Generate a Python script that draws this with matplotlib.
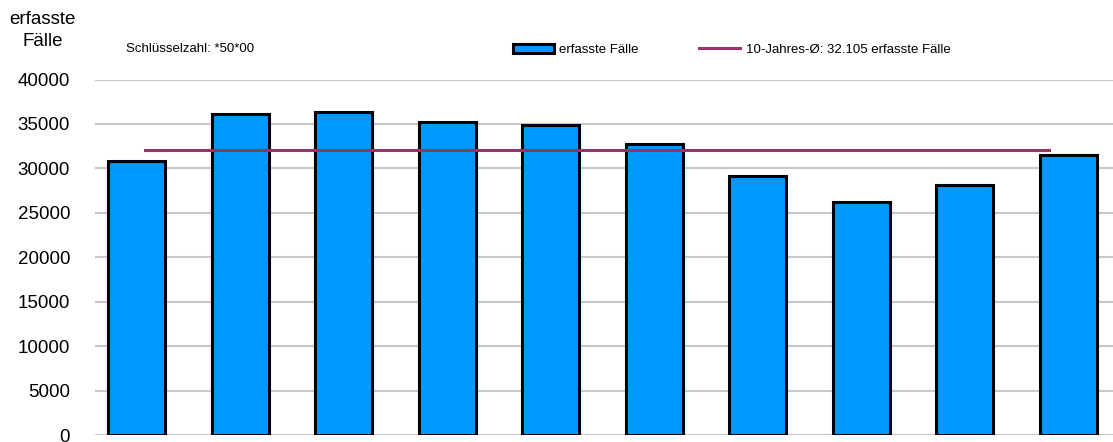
import numpy as np
import matplotlib.pyplot as plt
from matplotlib.patches import Patch
from matplotlib.lines import Line2D

plt.rcParams['font.family'] = ['Liberation Sans', 'DejaVu Sans']

# erfasste Fälle je Jahr (10 Jahre)
faelle = [30800, 36100, 36400, 35200, 34900, 32700, 29100, 26250, 28100, 31500]
mittel = 32105
yticks = np.arange(0, 40001, 5000)

fig = plt.figure(figsize=(11.13, 4.42), dpi=100)
ax = fig.add_axes([0.0854, 0.0158, 0.9146, 0.8042])

x = np.arange(len(faelle))
ax.bar(x, faelle, width=0.55, color='#0099FF', edgecolor='black',
       linewidth=2.2, zorder=3)
# 10-Jahres-Mittel als waagrechte Linie
ax.plot([x[0] + 0.08, x[-1] - 0.19], [mittel, mittel], color='#993366',
        linewidth=2.2, zorder=4)

ax.set_xlim(-0.40, 9.43)
ax.set_ylim(0, 40000)
ax.set_yticks(yticks)
ax.set_yticklabels([str(v) for v in yticks], fontsize=13.5)
ax.set_xticks([])
ax.tick_params(axis='y', length=0, pad=18)
ax.grid(axis='y', color='#C8C8C8', linewidth=1.5, zorder=0)
ax.set_axisbelow(True)
for s in ax.spines.values():
    s.set_visible(False)
ax.set_clip_on(False)

fig.text(0.038, 0.955, 'erfasste', fontsize=13.5, ha='center', va='center')
fig.text(0.038, 0.907, 'Fälle', fontsize=13.5, ha='center', va='center')
fig.text(0.113, 0.889, 'Schlüsselzahl: *50*00', fontsize=9.5, ha='left',
         va='center')

handles = [Patch(facecolor='#0099FF', edgecolor='black', linewidth=2.2),
           Line2D([0], [0], color='#993366', linewidth=2.2)]
fig.legend(handles, ['erfasste Fälle', '10-Jahres-Ø: 32.105 erfasste Fälle'],
           loc='center left', bbox_to_anchor=(0.461, 0.887), ncol=2,
           frameon=False, fontsize=9.5, borderpad=0, borderaxespad=0,
           handlelength=3.1, handletextpad=0.4, columnspacing=4.6)

fig.savefig('out.png', dpi=100)
